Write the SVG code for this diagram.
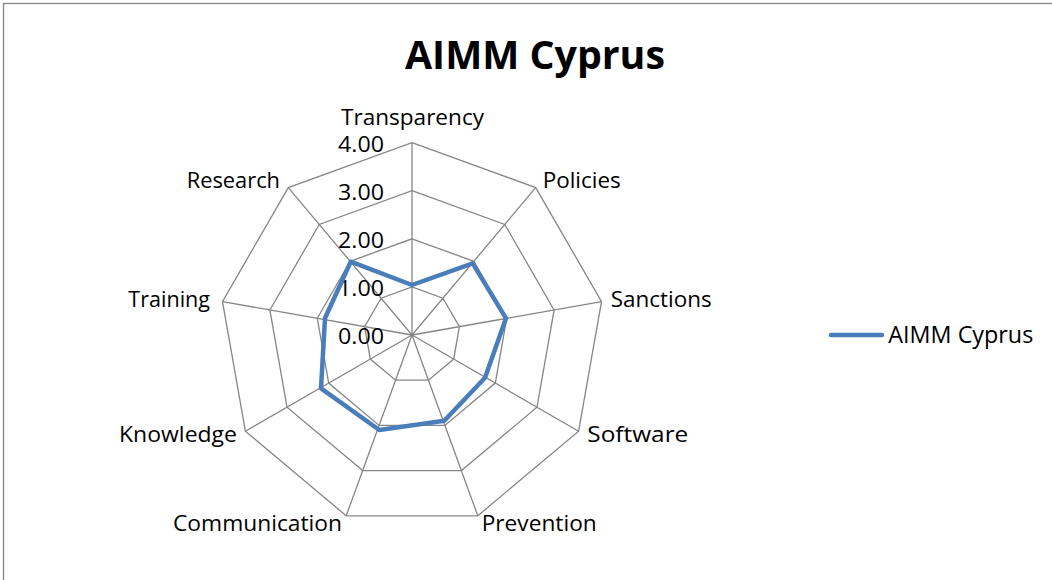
<svg xmlns="http://www.w3.org/2000/svg" width="1052" height="580" viewBox="0 0 1052 580">
<style>
.grid{fill:none;stroke:#868686;stroke-width:1.3}
.lbl{font-family:"Open Sans","Liberation Sans",sans-serif;font-size:22.5px;fill:#000}
.ttl{font-family:"Open Sans","Liberation Sans",sans-serif;font-size:38.5px;font-weight:bold;fill:#000}
.series{fill:none;stroke:#4A7EBB;stroke-width:4.5;stroke-linejoin:round;stroke-linecap:round}
</style>
<rect x="0" y="0" width="1052" height="580" fill="#ffffff"/>
<rect x="3.5" y="3.5" width="1100" height="650" fill="none" stroke="#868686" stroke-width="1.3"/>
<g id="title">
<text class="ttl" x="405" y="69.3" textLength="260" lengthAdjust="spacingAndGlyphs">AIMM Cyprus</text>
</g>
<g id="grid">
<polygon class="grid" points="412,286.9 442.9,298.2 459.4,326.6 453.7,359.1 428.5,380.2 395.5,380.2 370.3,359.1 364.6,326.6 381.1,298.2"/>
<polygon class="grid" points="412,238.8 473.8,261.3 506.7,318.3 495.3,383.1 444.9,425.4 379.1,425.4 328.7,383.1 317.3,318.3 350.2,261.3"/>
<polygon class="grid" points="412,190.7 504.8,224.5 554.1,310.0 537.0,407.2 461.4,470.6 362.7,470.6 287.0,407.2 269.9,310.0 319.2,224.5"/>
<polygon class="grid" points="412,142.6 535.7,187.6 601.5,301.6 578.6,431.2 477.8,515.8 346.2,515.8 245.4,431.2 222.5,301.6 288.3,187.6"/>
<path class="grid" d="M412,335L412,142.6M412,335L535.7,187.6M412,335L601.5,301.6M412,335L578.6,431.2M412,335L477.8,515.8M412,335L346.2,515.8M412,335L245.4,431.2M412,335L222.5,301.6M412,335L288.3,187.6"/>
</g>
<g id="axis-values">
<text class="lbl" x="338" y="151.5" textLength="46" lengthAdjust="spacingAndGlyphs">4.00</text>
<text class="lbl" x="338" y="199.5" textLength="46" lengthAdjust="spacingAndGlyphs">3.00</text>
<text class="lbl" x="338" y="247.5" textLength="46" lengthAdjust="spacingAndGlyphs">2.00</text>
<text class="lbl" x="338" y="295.5" textLength="46" lengthAdjust="spacingAndGlyphs">1.00</text>
<text class="lbl" x="338" y="343.5" textLength="46" lengthAdjust="spacingAndGlyphs">0.00</text>
</g>
<g id="category-labels">
<text class="lbl" x="341" y="125" textLength="143" lengthAdjust="spacingAndGlyphs">Transparency</text>
<text class="lbl" x="542.7" y="188.3" textLength="78" lengthAdjust="spacingAndGlyphs">Policies</text>
<text class="lbl" x="610.7" y="307.3" textLength="101" lengthAdjust="spacingAndGlyphs">Sanctions</text>
<text class="lbl" x="587.3" y="442.3" textLength="101" lengthAdjust="spacingAndGlyphs">Software</text>
<text class="lbl" x="481.7" y="530.5" textLength="115" lengthAdjust="spacingAndGlyphs">Prevention</text>
<text class="lbl" x="173" y="530.5" textLength="169" lengthAdjust="spacingAndGlyphs">Communication</text>
<text class="lbl" x="119" y="442.3" textLength="118" lengthAdjust="spacingAndGlyphs">Knowledge</text>
<text class="lbl" x="128.3" y="306.7" textLength="81.7" lengthAdjust="spacingAndGlyphs">Training</text>
<text class="lbl" x="186.7" y="188.3" textLength="93.3" lengthAdjust="spacingAndGlyphs">Research</text>
</g>
<g id="series-aimm-cyprus">
<polygon class="series" points="412,285 472.7,263.3 506,318.3 485,377.7 444.3,420.7 379.3,430 321,388.3 325,318.3 350.7,261.7"/>
</g>
<g id="legend">
<line x1="831" y1="335" x2="882" y2="335" stroke="#4A7EBB" stroke-width="4.5" stroke-linecap="round"/>
<text class="lbl" style="font-size:23px" x="888.3" y="342.7" textLength="145" lengthAdjust="spacingAndGlyphs">AIMM Cyprus</text>
</g>
</svg>
